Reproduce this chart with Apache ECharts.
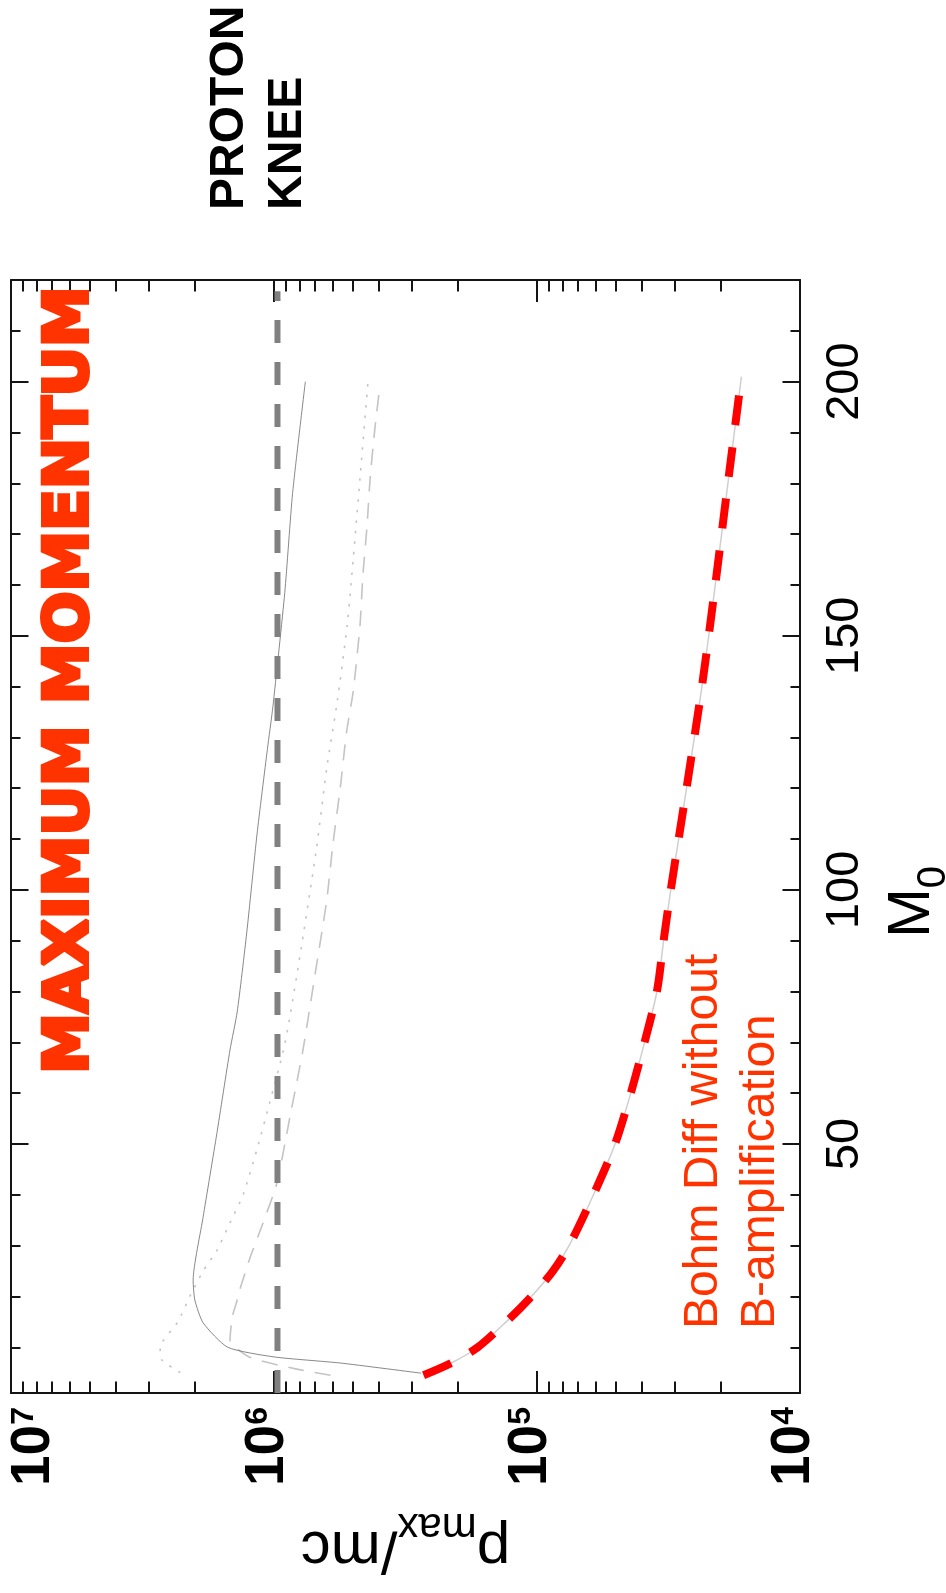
<!DOCTYPE html>
<html>
<head>
<meta charset="utf-8">
<title>Maximum momentum</title>
<script src="https://cdn.jsdelivr.net/npm/echarts@6.0.0/dist/echarts.min.js"></script>
<style>
  html, body { margin: 0; padding: 0; background: #ffffff; }
  #chart { width: 946px; height: 1593px; }
</style>
</head>
<body>
<div id="chart"></div>
<script>
// Shock Mach number M0 (vertical, right axis) against p_max/mc (log scale, horizontal, reversed).

// Bohm diffusion without B-amplification (thick red dashes)
const m0Bohm = [4.5, 7, 10, 15, 20, 25, 30, 40, 50, 60, 70, 80, 90, 100, 120, 140, 160, 180, 201];
const pBohm  = [2.7e5, 2.1e5, 1.68e5, 1.31e5, 1.05e5, 8.7e4, 7.55e4, 6.1e4, 5.05e4, 4.4e4, 3.9e4, 3.5e4, 3.3e4, 3.1e4, 2.7e4, 2.36e4, 2.1e4, 1.88e4, 1.67e4];

// Thin solid curve
const m0Solid = [4.9, 6.9, 8.1, 10, 14.8, 19.3, 23.2, 35.6, 52, 68.5, 76, 91.5, 111, 127.6, 136, 158.5, 178, 200];
const pSolid  = [2.76e5, 5.6e5, 1.0e6, 1.5e6, 1.86e6, 2.0e6, 2.03e6, 1.86e6, 1.65e6, 1.47e6, 1.38e6, 1.27e6, 1.16e6, 1.06e6, 1.01e6, 9.1e5, 8.5e5, 7.6e5];

// Light dotted curve
const m0Dotted = [5, 7.5, 10, 15, 20, 25, 29, 34.5, 40, 49, 58, 68.5, 75, 90, 108, 124, 137, 152, 165, 181, 200];
const pDotted  = [2.27e6, 2.67e6, 2.71e6, 2.32e6, 2.09e6, 1.86e6, 1.65e6, 1.47e6, 1.31e6, 1.16e6, 1.04e6, 9.2e5, 8.7e5, 7.8e5, 6.9e5, 6.3e5, 5.75e5, 5.27e5, 5.0e5, 4.71e5, 4.39e5];

// Light dashed curve
const m0Dashed = [4.5, 5.7, 8, 11.4, 16, 19.3, 21.3, 27.8, 34.5, 42.3, 55.3, 68.5, 85, 98, 109, 120, 131, 139, 152, 162, 171.5, 181, 191, 199];
const pDashed  = [6.1e5, 8.2e5, 1.23e6, 1.47e6, 1.44e6, 1.38e6, 1.35e6, 1.23e6, 1.10e6, 9.75e5, 8.7e5, 7.76e5, 6.9e5, 6.3e5, 5.97e5, 5.6e5, 5.3e5, 5.0e5, 4.71e5, 4.59e5, 4.43e5, 4.31e5, 4.13e5, 3.96e5];

// Proton knee (vertical dashed line)
const pKnee = 9.7e5;
const m0KneeRange = [1, 217.8];

// Axis ticks
const pTicksMajor = [1e4, 1e5, 1e6, 1e7];
const pTicksMinor = [2e4, 3e4, 4e4, 5e4, 6e4, 7e4, 8e4, 9e4,
                     2e5, 3e5, 4e5, 5e5, 6e5, 7e5, 8e5, 9e5,
                     2e6, 3e6, 4e6, 5e6, 6e6, 7e6, 8e6, 9e6];
const m0TicksMajor = [50, 100, 150, 200];
const m0TicksMinor = [10, 20, 30, 40, 60, 70, 80, 90, 110, 120, 130, 140, 160, 170, 180, 190, 210];
const m0Range = [1, 220];

const FONT = '"Liberation Sans", Arial, Helvetica, sans-serif';
const INK = '#141414';

function pairs(xs, ys) { return xs.map((m, i) => [ys[i], m]); }

function pAxis(position, ticks, len, extra) {
  return Object.assign({
    type: 'log', logBase: 10, min: 1e4, max: 1e7, inverse: true, position: position,
    axisLine: { show: false, onZero: false },
    axisTick: { show: true, inside: true, length: len, customValues: ticks,
                lineStyle: { color: INK, width: 2 } },
    axisLabel: { show: false },
    splitLine: { show: false }
  }, extra || {});
}

function mAxis(position, ticks, len, extra) {
  return Object.assign({
    type: 'value', min: m0Range[0], max: m0Range[1], position: position,
    axisLine: { show: false, onZero: false },
    axisTick: { show: true, inside: true, length: len, customValues: ticks,
                lineStyle: { color: INK, width: 2 } },
    axisLabel: { show: false },
    splitLine: { show: false }
  }, extra || {});
}

const frameLine = { show: true, onZero: false, lineStyle: { color: INK, width: 2 } };

// Powers of ten: bold "10" with a raised exponent
const tickRich = {
  b:  { fontFamily: FONT, fontWeight: 'bold', fontSize: 55, lineHeight: 55, color: '#000', padding: [0, 0, 12, 0] },
  s:  { fontFamily: FONT, fontWeight: 'bold', fontSize: 32, lineHeight: 32, color: '#000', padding: [0, 0, 31, 0] },
  bE: { fontFamily: FONT, fontWeight: 'bold', fontSize: 55, lineHeight: 55, color: '#000', padding: [45, 0, 0, 0] },
  sE: { fontFamily: FONT, fontWeight: 'bold', fontSize: 32, lineHeight: 32, color: '#000', padding: [26, 0, 0, 0] }
};

const option = {
  animation: false,
  backgroundColor: '#ffffff',
  grid: { left: 11, right: 146, top: 280, bottom: 200, containLabel: false, outerBoundsMode: 'none' },
  xAxis: [
    pAxis('bottom', pTicksMajor, 22, {
      axisLine: frameLine,
      axisLabel: {
        show: true, rotate: 90, margin: 14, customValues: pTicksMajor,
        formatter: function (v) {
          const e = Math.round(Math.log10(v));
          return e === 7 ? '{bE|10}{sE|7}' : '{b|10}{s|' + e + '}';
        },
        rich: tickRich
      },
      name: '{p|p}{sub|max}{p|/mc}',
      nameLocation: 'middle', nameRotate: 180, nameGap: 126, nameMoveOverlap: false,
      nameTextStyle: {
        rich: {
          p:   { fontFamily: FONT, fontSize: 60, lineHeight: 60, color: '#000' },
          sub: { fontFamily: FONT, fontSize: 42, lineHeight: 42, color: '#000', padding: [46, 0, 0, 0] }
        }
      }
    }),
    pAxis('bottom', pTicksMinor, 11.5),
    pAxis('top', pTicksMajor, 22, { axisLine: frameLine }),
    pAxis('top', pTicksMinor, 11.5)
  ],
  yAxis: [
    mAxis('right', m0TicksMajor, 17.5, {
      axisLine: frameLine,
      axisLabel: {
        show: true, rotate: 90, margin: 22, customValues: m0TicksMajor,
        fontFamily: FONT, fontSize: 47, lineHeight: 47, color: '#000'
      },
      name: '{m|M}{sub|0}',
      nameLocation: 'middle', nameRotate: 90, nameGap: 82, nameMoveOverlap: false,
      nameTextStyle: {
        padding: [0, 131, 0, 0],
        rich: {
          m:   { fontFamily: FONT, fontSize: 60, lineHeight: 60, color: '#000' },
          sub: { fontFamily: FONT, fontSize: 40, lineHeight: 40, color: '#000', padding: [44, 0, 0, 0] }
        }
      }
    }),
    mAxis('right', m0TicksMinor, 9.5),
    mAxis('left', m0TicksMajor, 17.5, { axisLine: frameLine }),
    mAxis('left', m0TicksMinor, 9.5)
  ],
  series: [
    {
      name: 'dotted', type: 'line', xAxisIndex: 0, yAxisIndex: 0, z: 2,
      data: pairs(m0Dotted, pDotted), showSymbol: false, symbol: 'none', smooth: 0.2,
      lineStyle: { color: '#c4c4c4', width: 1.6, type: [2.5, 8] }
    },
    {
      name: 'dashed', type: 'line', xAxisIndex: 0, yAxisIndex: 0, z: 2,
      data: pairs(m0Dashed, pDashed), showSymbol: false, symbol: 'none', smooth: 0.2,
      lineStyle: { color: '#c4c4c4', width: 1.6, type: [16, 11] }
    },
    {
      name: 'solid', type: 'line', xAxisIndex: 0, yAxisIndex: 0, z: 3,
      data: pairs(m0Solid, pSolid), showSymbol: false, symbol: 'none', smooth: 0.2,
      lineStyle: { color: '#6a6a6a', width: 0.8 }
    },
    {
      name: 'knee', type: 'line', xAxisIndex: 0, yAxisIndex: 0, z: 4,
      data: [[pKnee, m0KneeRange[0]], [pKnee, m0KneeRange[1]]], showSymbol: false, symbol: 'none',
      lineStyle: { color: '#808080', width: 6, type: [23, 19], cap: 'butt' }
    },
    {
      name: 'bohm-trace', type: 'line', xAxisIndex: 0, yAxisIndex: 0, z: 5,
      data: pairs(m0Bohm, pBohm), showSymbol: false, symbol: 'none', smooth: 0.3,
      lineStyle: { color: '#cfcfcf', width: 1.5 }
    },
    {
      name: 'bohm', type: 'line', xAxisIndex: 0, yAxisIndex: 0, z: 6,
      data: pairs(m0Bohm, pBohm), showSymbol: false, symbol: 'none', smooth: 0.3,
      lineStyle: { color: '#ff0000', width: 8, type: [30, 22], cap: 'butt' }
    }
  ],
  graphic: [
    {
      type: 'text', x: 71, y: 680, rotation: Math.PI / 2, z: 10,
      style: {
        text: 'MAXIMUM MOMENTUM',
        font: 'bold 61px "DejaVu Sans", sans-serif',
        fill: '#ff3300', stroke: '#ff3300', lineWidth: 4,
        align: 'center', verticalAlign: 'middle',
        textShadowColor: '#a8a8a8', textShadowBlur: 0,
        textShadowOffsetX: 3, textShadowOffsetY: -2
      }
    },
    {
      type: 'text', x: 258.5, y: 210, rotation: Math.PI / 2, z: 10,
      style: {
        text: 'PROTON\nKNEE',
        font: 'bold 48px ' + FONT, fill: '#000000',
        align: 'left', verticalAlign: 'middle', lineHeight: 58
      }
    },
    {
      type: 'text', x: 732, y: 1329, rotation: Math.PI / 2, z: 10,
      style: {
        text: 'Bohm Diff without\nB-amplification',
        font: '48px ' + FONT, fill: '#ff3300',
        align: 'left', verticalAlign: 'middle', lineHeight: 57
      }
    }
  ]
};

const chart = echarts.init(document.getElementById('chart'), null, { renderer: 'canvas' });
chart.setOption(option);
</script>
</body>
</html>
